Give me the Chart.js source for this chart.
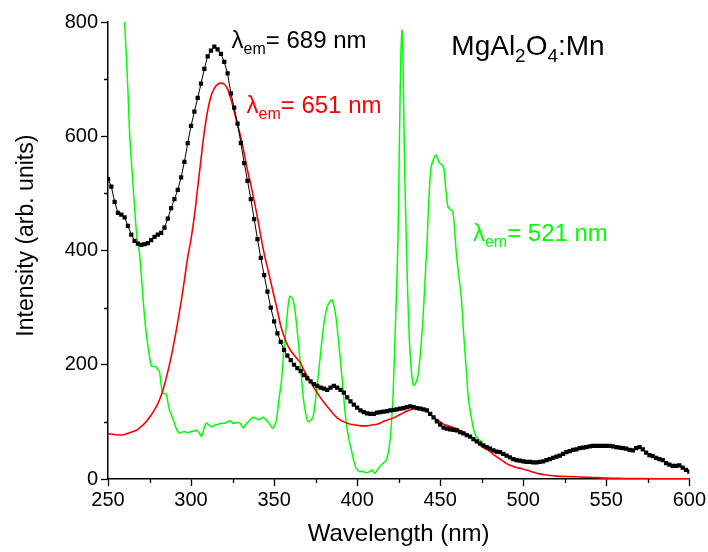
<!DOCTYPE html>
<html><head><meta charset="utf-8">
<script src="https://cdn.jsdelivr.net/npm/chart.js@4/dist/chart.umd.min.js"></script>
<style>html,body{margin:0;padding:0;background:#fff}#wrap{width:708px;height:552px}</style>
</head><body><div id="wrap"><canvas id="c" width="708" height="552"></canvas></div>
<script>
// ---- data ----
const blackWavelength = [250,252,254,256,258,260,262,264,266,268,270,272,274,276,278,280,282,284,286,288,290,292,294,296,298,300,302,304,306,308,310,312,314,316,318,320,322,324,326,328,330,332,334,336,338,340,342,344,346,348,350,352,354,356,358,360,362,364,366,368,370,372,374,376,378,380,382,384,386,388,390,392,394,396,398,400,402,404,406,408,410,412,414,416,418,420,422,424,426,428,430,432,434,436,438,440,442,444,446,448,450,452,454,456,458,460,462,464,466,468,470,472,474,476,478,480,482,484,486,488,490,492,494,496,498,500,502,504,506,508,510,512,514,516,518,520,522,524,526,528,530,532,534,536,538,540,542,544,546,548,550,552,554,556,558,560,562,564,566,568,570,572,574,576,578,580,582,584,586,588,590,592,594,596,598,600];
const blackIntensity = [525,512,485,466,463,458,443,428,417,412,410,411,413,418,424,428,431,440,456,474,490,506,528,555,588,618,643,667,692,718,740,750,757,752,744,730,710,675,650,622,588,553,522,490,455,420,387,357,328,300,276,255,240,226,216,208,200,194,189,182,176,171,166,163,160,158,156,160,163,160,156,151,143,136,130,125,120,117,115,114,114,116,117,118,119,120,121,122,123,124,126,127,126,124,123,122,120,114,108,101,95,90,88,87,86,85,82,80,77,74,70,66,62,59,56,53,50,48,47,44,41,38,35,33,32,31,30,30,29,29,30,31,33,35,37,39,41,44,47,49,51,52,54,55,56,57,58,58,58,58,58,58,57,56,55,54,53,51,50,54,56,52,46,42,40,37,35,33,28,25,23,23,24,20,16,13];

const redWavelength = [250,254,257,260,263,266,268,270,272,274,276,278,280,282,284,286,288,290,292,294,296,298,300,302,304,306,308,310,312,314,316,318,320,322,324,326,328,330,332,334,336,338,340,342,344,346,348,350,352,354,356,358,360,362,364,366,368,370,372,374,376,378,380,382,384,386,388,390,392,394,396,398,400,402,404,406,408,410,412,414,416,418,420,422,424,426,428,430,432,434,436,438,440,442,444,446,448,450,452,454,456,458,460,462,464,466,468,470,472,474,476,478,480,482,484,486,488,490,492,494,496,498,500,504,508,512,516,520,530,540,550,560,580,600];
const redIntensity = [79,78,77,78,81,84,87,92,97,104,112,121,132,146,165,188,213,243,275,310,348,388,420,460,510,560,608,645,670,684,691,693,691,683,665,643,620,598,570,540,515,487,458,425,395,370,345,320,295,268,250,235,225,217,210,203,190,180,170,160,151,142,134,127,120,113,107,103,100,98,96,95,94,93,93,93,94,95,96,98,101,103,105,107,110,113,116,119,121,123,124,123,121,119,113,108,104,100,96,94,92,90,88,85,82,79,75,70,65,60,55,52,48,43,39,35,31,27,24,22,20,19,17,14,10,8,6,5,4,3,1.5,1,0.5,0.5];

const greenWavelength = [250,254,257,260,262,263,264,266,267,268,269,270,271,272,273,275,276,277,279,280,281,282,283,285,286,287,289,291,293,294.5,296,298,300,302,303.3,305,306.3,308,309.3,311,312.4,314,316.4,318,320.4,322,323.4,325.4,327,329.4,331.4,333,334.4,336,337.4,339,340.4,342,343.4,345,346.4,348,349,350,351.4,353,354.5,356,357.1,358.3,359.4,360.5,361.5,363,364.5,366,367.5,369,370.5,372,373.5,375,376.5,378,379.5,381,382.5,384,385.1,386.5,387.5,389,390.5,392,393.5,395,396.5,398,399.5,401.5,403.5,405.5,407.5,409,410.6,412,413.6,415.5,417.6,418.6,419.6,420.6,421.6,422.6,423.6,424.6,425.5,426.3,427,427.7,428.5,429.6,430.5,431.5,432.6,433.5,434.1,435,436.5,437.8,439.2,440.2,441.2,442.2,443,444,444.6,446,447.6,448.6,449.6,451,452.2,453.3,454.6,456,457.6,458.7,459.6,461,462.7,464,465.7,467,468.7,470,471.7,473.7,475.5];
const greenIntensity = [1150,1050,920,800,680,605,560,475,436,412,395,360,319,285,255,214,198,197,196,192,188,165,150,149,135,121,106,89,80,82,83,81,83,84,86,80,75,90,98,94,91,94,96,97,98,100,102,97,99,98,89,96,100,105,108,106,104,106,108,104,100,93,89,92,103,140,173,230,261,300,320,318,313,285,243,195,144,115,100,103,109,140,179,220,261,290,305,312,313,296,278,235,191,140,97,70,51,32,18,13,13,11,13,16,10,15,22,27,33,45,62,95,144,230,319,420,600,740,786,720,560,420,320,240,191,168,164,166,179,210,261,310,366,420,480,530,547,560,567,560,553,550,544,510,477,472,468,436,400,360,319,260,191,140,109,88,74,68,64];

const xTicksMajor = [250,300,350,400,450,500,550,600];
const yTicksMajor = [0,200,400,600,800];
const seriesLabels = ['λem= 689 nm','λem= 651 nm','λem= 521 nm'];

const pairs = (xs, ys) => xs.map((x, i) => ({x, y: ys[i]}));
const FONT = 'Liberation Sans, Arial, Helvetica, sans-serif';
const GREEN = '#00ff00';

// plugin: minor ticks + y-axis title
const minorTicks = {
  id: 'minorTicks',
  afterDraw(chart) {
    const {ctx, scales: {x, y}, chartArea} = chart;
    ctx.save();
    ctx.strokeStyle = '#000';
    ctx.lineWidth = 1.3;
    ctx.beginPath();
    for (let i = 0; i < xTicksMajor.length - 1; i++) {
      const px = Math.round(x.getPixelForValue((xTicksMajor[i] + xTicksMajor[i + 1]) / 2)) + 0.5;
      ctx.moveTo(px, chartArea.bottom);
      ctx.lineTo(px, chartArea.bottom + 4);
    }
    for (let i = 0; i < yTicksMajor.length - 1; i++) {
      const py = Math.round(y.getPixelForValue((yTicksMajor[i] + yTicksMajor[i + 1]) / 2)) + 0.5;
      ctx.moveTo(chartArea.left, py);
      ctx.lineTo(chartArea.left - 4, py);
    }
    ctx.stroke();
    // y-axis title
    ctx.translate(27, y.getPixelForValue(426));
    ctx.rotate(-Math.PI / 2);
    ctx.font = '23px ' + FONT;
    ctx.fillStyle = '#000';
    ctx.textAlign = 'center';
    ctx.textBaseline = 'middle';
    ctx.fillText('Intensity (arb. units)', 0, 0);
    ctx.restore();
  }
};

// plugin: text annotations with subscripts
function drawParts(ctx, x0, y0, color, parts, size, subSize, subShift) {
  ctx.fillStyle = color;
  ctx.textBaseline = 'alphabetic';
  ctx.textAlign = 'left';
  let x = x0;
  for (const p of parts) {
    ctx.font = (p.sub ? subSize : size) + 'px ' + FONT;
    ctx.fillText(p.t, x, y0 + (p.sub ? subShift : 0));
    x += ctx.measureText(p.t).width;
  }
}
const annotations = {
  id: 'annotations',
  afterDatasetsDraw(chart) {
    const {ctx, scales: {x, y}} = chart;
    ctx.save();
    const items = [
      {at: [324.4, 755], color: '#000000', text: '= 689 nm'},
      {at: [333.4, 641], color: '#ff0000', text: '= 651 nm'},
      {at: [469.7, 416], color: GREEN, text: '= 521 nm'}
    ];
    for (const it of items) {
      drawParts(ctx, x.getPixelForValue(it.at[0]), y.getPixelForValue(it.at[1]), it.color,
        [{t: 'λ'}, {t: 'em', sub: true}, {t: it.text}], 24, 16, 6);
    }
    drawParts(ctx, x.getPixelForValue(456.7), y.getPixelForValue(743), '#000000',
      [{t: 'MgAl'}, {t: '2', sub: true}, {t: 'O'}, {t: '4', sub: true}, {t: ':Mn'}], 28, 19, 7);
    ctx.restore();
  }
};

const axisCommon = {
  grid: {display: true, drawOnChartArea: false, drawTicks: true, tickLength: 7, color: '#000', tickWidth: 1.3},
  border: {display: true, color: '#000', width: 1.5}
};

new Chart(document.getElementById('c'), {
  type: 'line',
  data: {
    datasets: [
      {label: seriesLabels[0], data: pairs(blackWavelength, blackIntensity), borderColor: '#000', backgroundColor: '#000',
       borderWidth: 1, pointStyle: 'rect', pointRadius: 3, pointBorderWidth: 0, tension: 0, order: 0},
      {label: seriesLabels[1], data: pairs(redWavelength, redIntensity), borderColor: '#ff0000',
       borderWidth: 1.6, pointRadius: 0, tension: 0.3, order: 1},
      {label: seriesLabels[2], data: pairs(greenWavelength, greenIntensity), borderColor: GREEN,
       borderWidth: 1.5, pointRadius: 0, tension: 0.2, order: 2}
    ]
  },
  options: {
    responsive: false,
    devicePixelRatio: 1,
    animation: false,
    layout: {padding: {top: 22, right: 18, left: 0, bottom: 0}},
    plugins: {legend: {display: false}, tooltip: {enabled: false}},
    scales: {
      x: Object.assign({
        type: 'linear', min: 250, max: 600,
        afterFit(s) { s.height = 73; },
        ticks: {stepSize: 50, color: '#000', font: {family: FONT, size: 20}, padding: 2, maxRotation: 0, autoSkip: false},
        title: {display: true, text: 'Wavelength (nm)', color: '#000', font: {family: FONT, size: 24}, padding: {top: 0, bottom: 3}}
      }, axisCommon),
      y: Object.assign({
        type: 'linear', min: 0, max: 800,
        afterFit(s) { s.width = 108; },
        ticks: {stepSize: 200, color: '#000', font: {family: FONT, size: 20}, padding: 3},
        title: {display: false, text: 'Intensity (arb. units)'}
      }, axisCommon)
    }
  },
  plugins: [minorTicks, annotations]
});
</script></body></html>
